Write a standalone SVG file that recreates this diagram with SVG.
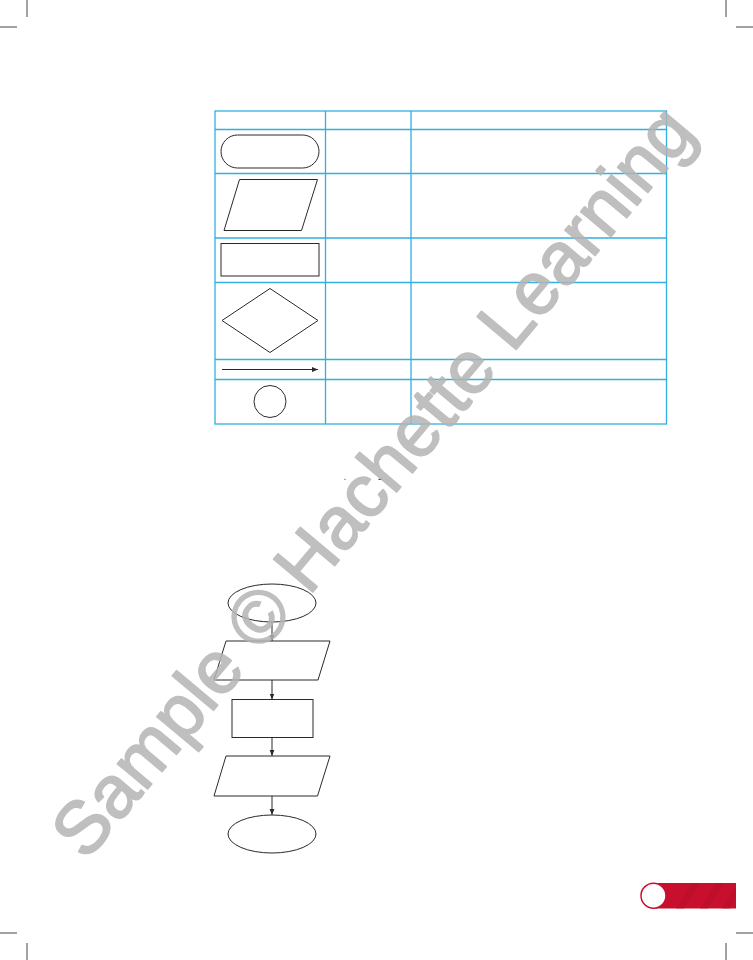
<svg xmlns="http://www.w3.org/2000/svg" width="753" height="960" viewBox="0 0 753 960">
<style>
.tb{stroke:#33aee0;stroke-width:1.3;fill:none}
.sh{stroke:#2a2a2a;stroke-width:1;fill:#fff}
.cn{stroke:#2a2a2a;stroke-width:1;fill:none}
.crop{stroke:#444;stroke-width:1}
.wm{font-family:"Liberation Sans",Arial,sans-serif;font-size:74px;fill:#b4b4b4;stroke:#b4b4b4;stroke-width:1.8;stroke-linejoin:round;opacity:0.85}
</style>
<defs>
<marker id="ah" viewBox="0 0 10 10" refX="10" refY="5" markerWidth="6" markerHeight="6" orient="auto" markerUnits="userSpaceOnUse">
<path d="M0,1 L10,5 L0,9 z" fill="#2a2a2a"/>
</marker>
</defs>
<rect width="753" height="960" fill="#fff"/>
<g id="crop-marks">
<line class="crop" x1="27" y1="0" x2="27" y2="17"/>
<line class="crop" x1="0" y1="27" x2="17" y2="27"/>
<line class="crop" x1="726" y1="0" x2="726" y2="17"/>
<line class="crop" x1="736" y1="27" x2="753" y2="27"/>
<line class="crop" x1="0" y1="933" x2="17" y2="933"/>
<line class="crop" x1="27" y1="943" x2="27" y2="960"/>
<line class="crop" x1="736" y1="933" x2="753" y2="933"/>
<line class="crop" x1="726" y1="943" x2="726" y2="960"/>
</g>
<g id="table">
<rect class="tb" x="215" y="111" width="451.5" height="313"/>
<line class="tb" x1="325.5" y1="111" x2="325.5" y2="424"/>
<line class="tb" x1="411" y1="111" x2="411" y2="424"/>
<line class="tb" x1="215" y1="129.5" x2="666.5" y2="129.5"/>
<line class="tb" x1="215" y1="173.5" x2="666.5" y2="173.5"/>
<line class="tb" x1="215" y1="238" x2="666.5" y2="238"/>
<line class="tb" x1="215" y1="282.5" x2="666.5" y2="282.5"/>
<line class="tb" x1="215" y1="359.5" x2="666.5" y2="359.5"/>
<line class="tb" x1="215" y1="379.5" x2="666.5" y2="379.5"/>
</g>
<g id="sym-terminator"><rect class="sh" x="221" y="135" width="98" height="33" rx="16.5"/></g>
<g id="sym-io"><polygon class="sh" points="239.5,179.5 317.5,179.5 301.5,230.5 224,230.5"/></g>
<g id="sym-process"><rect class="sh" x="221" y="243.5" width="98" height="32.5"/></g>
<g id="sym-decision"><polygon class="sh" points="270,288.5 318,320.5 270,352.5 222,320.5"/></g>
<g id="sym-flow"><line class="cn" x1="222" y1="369.5" x2="318" y2="369.5" marker-end="url(#ah)"/></g>
<g id="sym-connector"><circle class="sh" cx="270" cy="401.5" r="16"/></g>
<g id="marks">
<rect x="344.5" y="478.8" width="1" height="1" fill="#333"/>
<line x1="378.5" y1="479.3" x2="382" y2="479.3" stroke="#222" stroke-width="1"/>
</g>
<g id="start"><ellipse class="sh" cx="272" cy="603" rx="44" ry="19"/></g>
<g id="input"><polygon class="sh" points="226,641 330,641 318,680 214,680"/></g>
<g id="process"><rect class="sh" x="232" y="699.5" width="81" height="38"/></g>
<g id="output"><polygon class="sh" points="226,756 330,756 317.5,796 214,796"/></g>
<g id="end"><ellipse class="sh" cx="272" cy="834" rx="44" ry="19"/></g>
<g id="connectors">
<line class="cn" x1="272" y1="622" x2="272" y2="641" marker-end="url(#ah)"/>
<line class="cn" x1="272" y1="680" x2="272" y2="699.5" marker-end="url(#ah)"/>
<line class="cn" x1="272" y1="737.5" x2="272" y2="756" marker-end="url(#ah)"/>
<line class="cn" x1="272" y1="796" x2="272" y2="815" marker-end="url(#ah)"/>
</g>
<g id="page-tab">
<rect x="653" y="883" width="83" height="25.5" fill="#c8102e"/>
<polygon points="676,908.5 692,883 700,883 684,908.5" fill="#b80d28" opacity="0.6"/>
<polygon points="700,908.5 716,883 724,883 708,908.5" fill="#b80d28" opacity="0.6"/>
<polygon points="722,908.5 736,886 736,898 730,908.5" fill="#b80d28" opacity="0.6"/>
<circle cx="653.5" cy="895.7" r="12.5" fill="#fff" stroke="#c8102e" stroke-width="1.5"/>
</g>
<text class="wm" x="86" y="862" transform="rotate(-50 86 862)">Sample © Hachette Learning</text>
</svg>
